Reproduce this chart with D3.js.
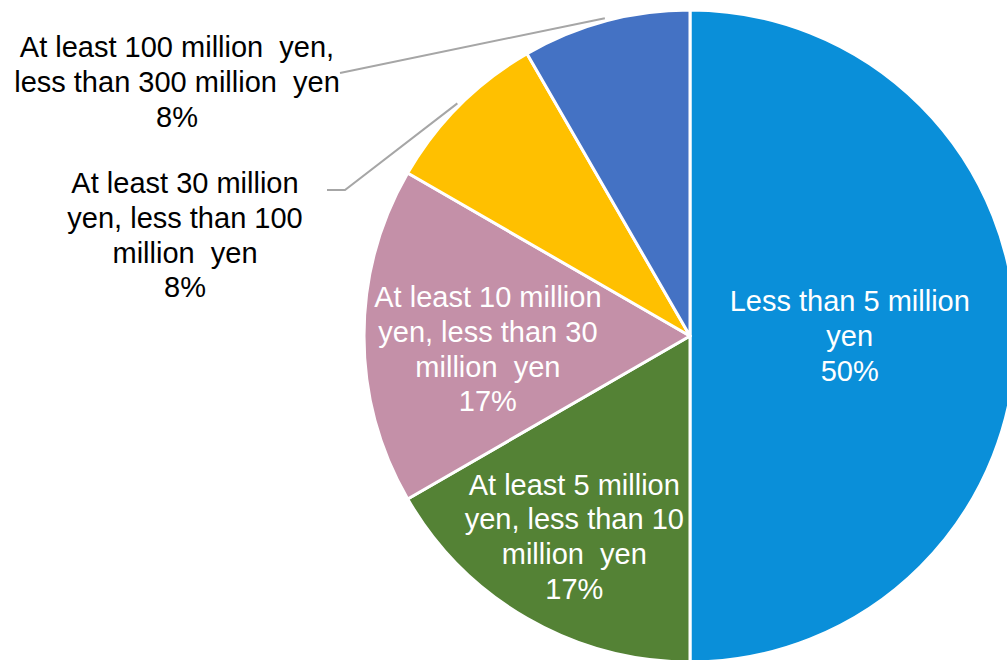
<!DOCTYPE html>
<html>
<head>
<meta charset="utf-8">
<script src="https://cdn.jsdelivr.net/npm/d3@7"></script>
<style>
  body { margin: 0; background: #fff; }
  text { font-family: "Liberation Sans", Arial, sans-serif; white-space: pre; }
</style>
</head>
<body>
<div id="chart"></div>
<script>
  var width = 1007,
      height = 660;

  // slices, clockwise from 12 o'clock
  var categories = ["Less than 5 million yen",
                    "At least 5 million yen, less than 10 million yen",
                    "At least 10 million yen, less than 30 million yen",
                    "At least 30 million yen, less than 100 million yen",
                    "At least 100 million yen, less than 300 million yen"];
  var values = [6, 2, 2, 1, 1];
  var labelLines = [
    ["Less than 5 million", "yen"],
    ["At least 5 million", "yen, less than 10", "million  yen"],
    ["At least 10 million", "yen, less than 30", "million  yen"],
    ["At least 30 million", "yen, less than 100", "million  yen"],
    ["At least 100 million  yen,", "less than 300 million  yen"]
  ];
  var colors = ["#0A8FD9", "#548235", "#C490A8", "#FFC000", "#4472C4"];

  // label placement (layout, not data)
  var cx = 690, cy = 336, r = 326,
      fontSize = 29, lineH = 34.7;
  var inside = [
    {r: 0.49, dy: 0},
    {r: 0.71, dy: 0},
    {r: 0.62, dy: 13}
  ];
  var outside = [
    null, null, null,
    {x: 185, y: 235, lx: 327, ly: 190, run: 18},
    {x: 177, y: 82, lx: 340, ly: 73, run: 0}
  ];

  var total = d3.sum(values);
  var pct = d3.format(".0%");

  var svg = d3.select("#chart").append("svg")
      .attr("width", width)
      .attr("height", height)
      .append("g")
      .attr("transform", "translate(" + cx + "," + cy + ")");

  var pie = d3.pie().sort(null).value(function(d) { return d; });
  var arcs = pie(values);

  var arc = d3.arc().innerRadius(0).outerRadius(r);

  svg.selectAll("path.slice")
    .data(arcs)
    .enter()
    .append("path")
    .attr("class", "slice")
    .attr("d", arc)
    .style("fill", function(d, i) { return colors[i]; })
    .style("stroke", "#fff")
    .style("stroke-width", 3)
    .style("stroke-linejoin", "round");

  function mid(d) { return (d.startAngle + d.endAngle) / 2; }

  arcs.forEach(function(d, i) {
    var lines = labelLines[i].concat([pct(d.value / total)]);
    var a = mid(d), x, y, fill;
    if (inside[i]) {
      x = Math.sin(a) * r * inside[i].r;
      y = -Math.cos(a) * r * inside[i].r + inside[i].dy;
      fill = "#fff";
    } else {
      var o = outside[i];
      x = o.x - cx;
      y = o.y - cy;
      fill = "#000";
      // leader line from label to slice edge
      var ex = Math.sin(a) * (r + 3), ey = -Math.cos(a) * (r + 3);
      var pts = [[o.lx - cx, o.ly - cy], [o.lx - cx + o.run, o.ly - cy], [ex, ey]];
      svg.append("path")
        .attr("d", d3.line()(pts))
        .style("fill", "none")
        .style("stroke", "#A6A6A6")
        .style("stroke-width", 2);
    }
    var t = svg.append("text")
      .attr("text-anchor", "middle")
      .style("font-size", fontSize + "px")
      .style("fill", fill);
    var y0 = y - (lines.length - 1) * lineH / 2 + fontSize * 0.35;
    lines.forEach(function(s, j) {
      t.append("tspan")
        .attr("x", x)
        .attr("y", y0 + j * lineH)
        .text(s);
    });
  });
</script>
</body>
</html>
